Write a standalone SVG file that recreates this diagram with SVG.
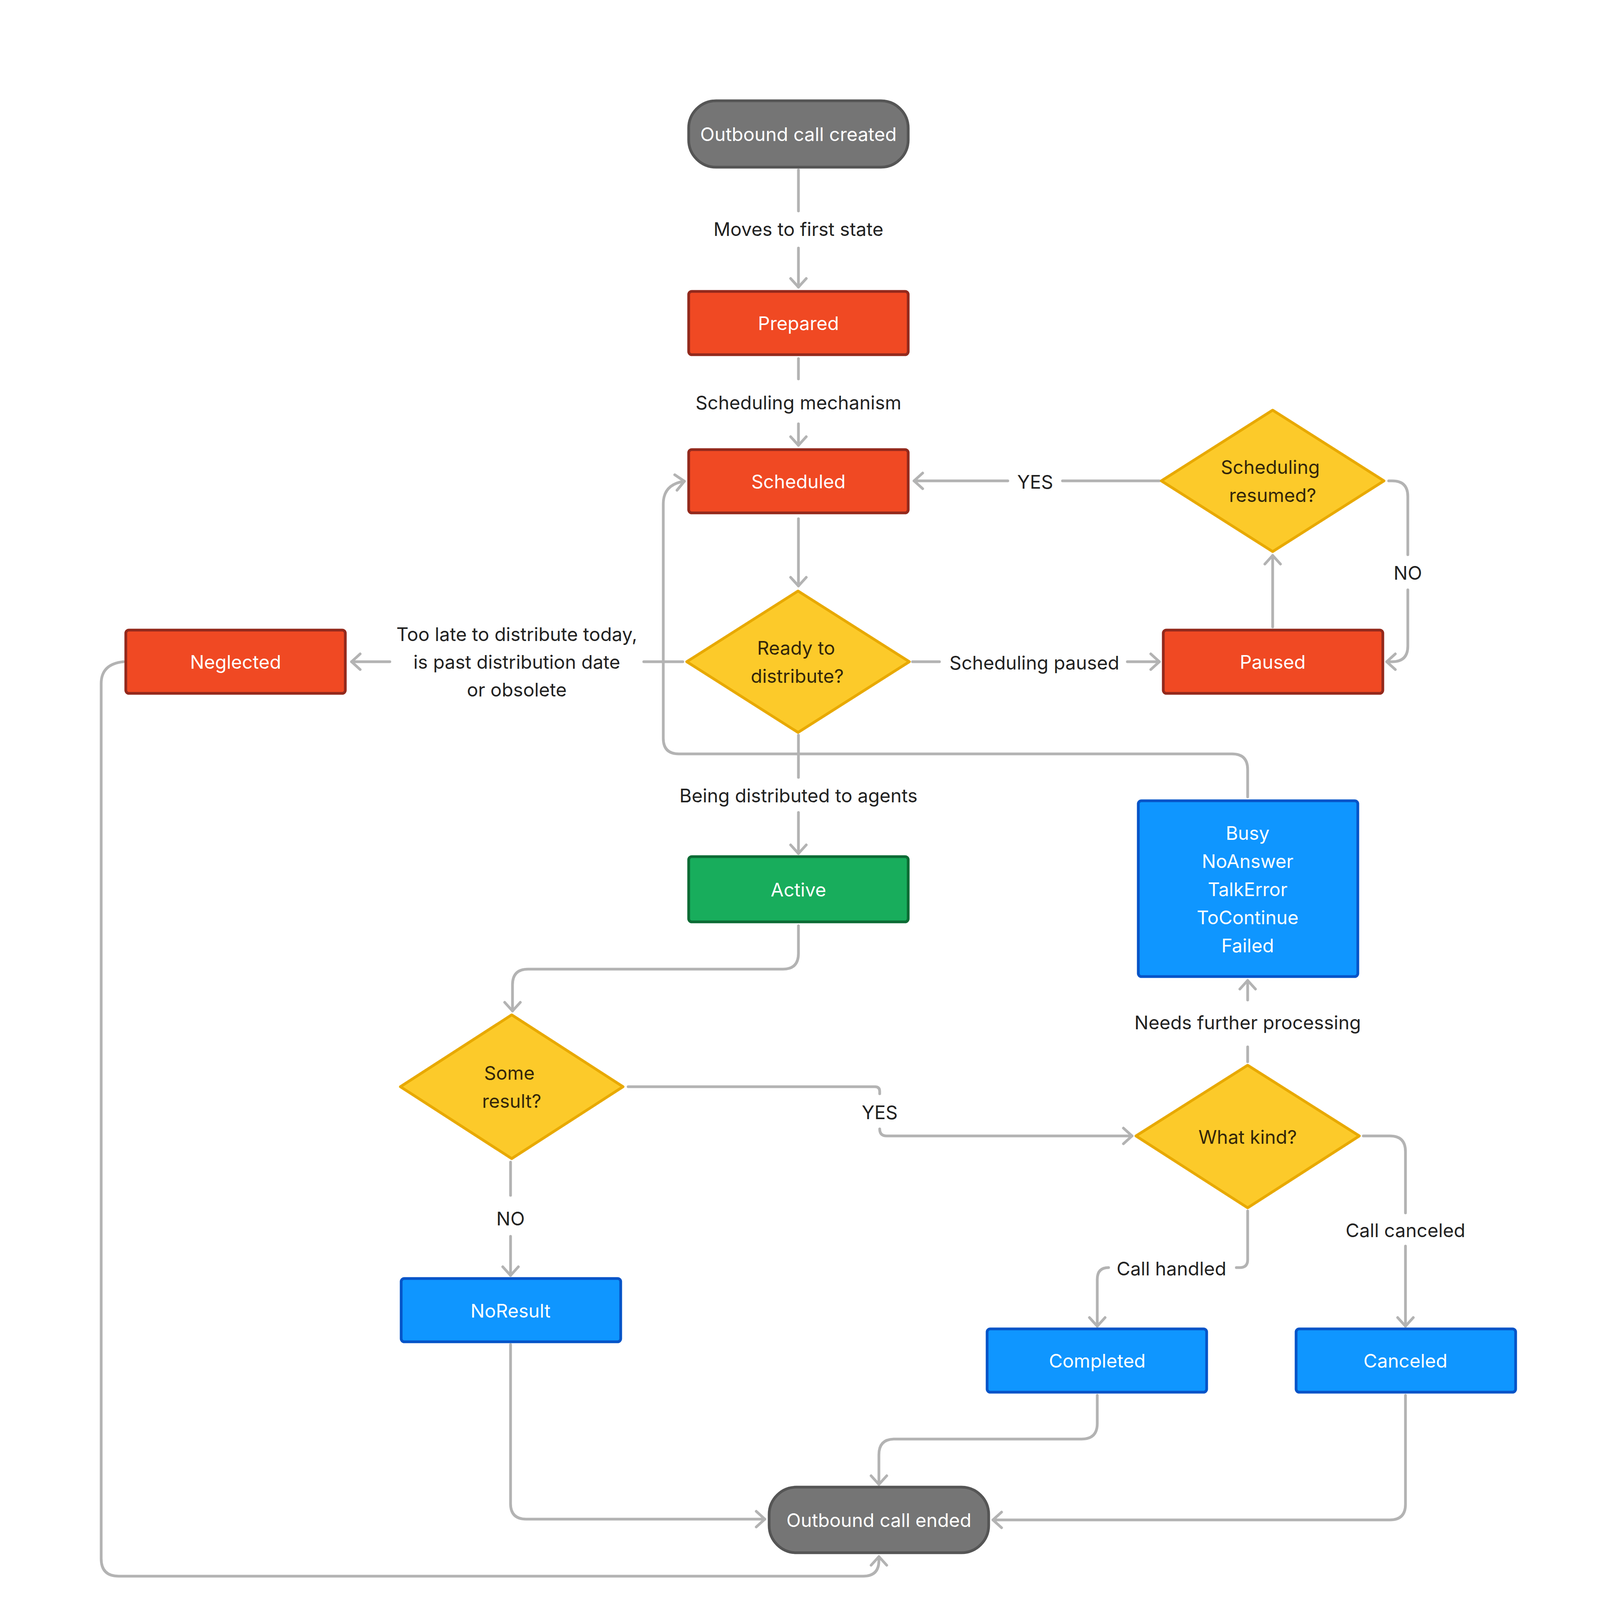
<svg xmlns="http://www.w3.org/2000/svg" width="4140" height="4298" viewBox="0 0 4140 4298">
<style>
text{font-family:Inter,"Noto Sans","Liberation Sans",sans-serif;font-size:48px;text-anchor:middle;dominant-baseline:central}
.w{fill:#fff}.d{fill:#222}.y{fill:#33260a}
.gray{fill:#757575;stroke:#555;stroke-width:7}
.red{fill:#f04923;stroke:#93291c;stroke-width:7}
.yel{fill:#fcca2a;stroke:#e8a900;stroke-width:7;stroke-linejoin:round}
.blue{fill:#0f96ff;stroke:#0554c8;stroke-width:7}
.green{fill:#18ad5c;stroke:#0b6b34;stroke-width:7}
.c path{fill:none;stroke:#b3b3b3;stroke-width:7;stroke-linecap:round;stroke-linejoin:round}
.c .a{marker-end:url(#arr)}
</style>
<defs>
<marker id="arr" viewBox="-4 -4 32 48" refX="22" refY="20" markerWidth="32" markerHeight="48" markerUnits="userSpaceOnUse" orient="auto">
<path d="M0,0 L22,20 L0,40" fill="none" stroke="#b3b3b3" stroke-width="7" stroke-linecap="round" stroke-linejoin="round"/>
</marker>
</defs>
<rect width="4140" height="4298" fill="#fff"/>
<g class="c" id="connectors">
<path d="M2044,435 V540"/><path class="a" d="M2044,635 V735"/>
<text class="d" x="2044" y="586">Moves to first state</text>
<path d="M2044,918 V970"/><path class="a" d="M2044,1085 V1140"/>
<text class="d" x="2044" y="1030">Scheduling mechanism</text>
<path class="a" d="M2044,1328 V1500"/>
<path d="M1748,1694 H1648"/><path class="a" d="M998,1694 H900"/>
<text class="d" x="1323" y="1623">Too late to distribute today,</text>
<text class="d" x="1323" y="1694">is past distribution date</text>
<text class="d" x="1323" y="1765">or obsolete</text>
<path d="M2336,1694 H2405"/><path class="a" d="M2886,1694 H2968"/>
<text class="d" x="2648" y="1696">Scheduling paused</text>
<path class="a" d="M3258,1605 V1422"/>
<path d="M2968,1231 H2720"/><path class="a" d="M2580,1231 H2340"/>
<text class="d" x="2650" y="1233">YES</text>
<path d="M3555,1231 H3564 Q3604,1231 3604,1271 V1420"/><path class="a" d="M3604,1510 V1654 Q3604,1694 3564,1694 H3550"/>
<text class="d" x="3604" y="1466">NO</text>
<path d="M2044,1882 V1990"/><path class="a" d="M2044,2080 V2185"/>
<text class="d" x="2044" y="2036">Being distributed to agents</text>
<path class="a" d="M3194,2040 V1970 Q3194,1930 3154,1930 H1738 Q1698,1930 1698,1890 V1290 Q1698,1240 1752,1232"/>
<path class="a" d="M2044,2370 V2441 Q2044,2481 2004,2481 H1352 Q1312,2481 1312,2521 V2588"/>
<path d="M1608,2782 H2240 Q2252,2782 2252,2794 V2800"/><path class="a" d="M2252,2890 Q2252,2908 2270,2908 H2898"/>
<text class="d" x="2252" y="2847">YES</text>
<path d="M1307,2975 V3060"/><path class="a" d="M1307,3165 V3265"/>
<text class="d" x="1307" y="3119">NO</text>
<path d="M3194,2718 V2680"/><path class="a" d="M3194,2560 V2510"/>
<text class="d" x="3194" y="2617">Needs further processing</text>
<path d="M3194,3100 V3225 Q3194,3245 3174,3245 H3165"/><path class="a" d="M2838,3245 Q2809,3245 2809,3275 V3395"/>
<text class="d" x="2999" y="3247">Call handled</text>
<path d="M3490,2908 H3558 Q3598,2908 3598,2948 V3105"/><path class="a" d="M3598,3190 V3395"/>
<text class="d" x="3598" y="3149">Call canceled</text>
<path class="a" d="M2809,3572 V3644 Q2809,3684 2769,3684 H2290 Q2250,3684 2250,3724 V3800"/>
<path class="a" d="M1307,3442 V3849 Q1307,3889 1347,3889 H1958"/>
<path class="a" d="M3598,3572 V3851 Q3598,3891 3558,3891 H2542"/>
<path class="a" d="M316,1694 Q259,1700 259,1750 V3990 Q259,4035 304,4035 H2210 Q2250,4035 2250,3995 V3985"/>
</g>
<g id="created"><rect class="gray" x="1763" y="258" width="562" height="170" rx="70"/><text class="w" x="2044" y="343">Outbound call created</text></g>
<g id="prepared"><rect class="red" x="1763" y="746" width="562" height="162" rx="8"/><text class="w" x="2044" y="827">Prepared</text></g>
<g id="scheduled"><rect class="red" x="1763" y="1151" width="562" height="162" rx="8"/><text class="w" x="2044" y="1232">Scheduled</text></g>
<g id="ready"><polygon class="yel" points="2043,1513 2328,1694 2043,1875 1758,1694"/><text class="y" x="2038" y="1658">Ready to</text><text class="y" x="2041" y="1730">distribute?</text></g>
<g id="resumed"><polygon class="yel" points="3258,1050 3543,1231 3258,1412 2973,1231"/><text class="y" x="3252" y="1195">Scheduling</text><text class="y" x="3258" y="1267">resumed?</text></g>
<g id="paused"><rect class="red" x="2978" y="1613" width="562" height="162" rx="8"/><text class="w" x="3258" y="1694">Paused</text></g>
<g id="neglected"><rect class="red" x="322" y="1613" width="562" height="162" rx="8"/><text class="w" x="603" y="1694">Neglected</text></g>
<g id="retry"><rect class="blue" x="2914" y="2050" width="562" height="450" rx="8"/>
<text class="w" x="3194" y="2132">Busy</text><text class="w" x="3194" y="2204">NoAnswer</text><text class="w" x="3194" y="2276">TalkError</text><text class="w" x="3194" y="2348">ToContinue</text><text class="w" x="3194" y="2420">Failed</text></g>
<g id="active"><rect class="green" x="1763" y="2193" width="562" height="167" rx="8"/><text class="w" x="2044" y="2277">Active</text></g>
<g id="someresult"><polygon class="yel" points="1310,2598 1595,2782 1310,2966 1025,2782"/><text class="y" x="1304" y="2746">Some</text><text class="y" x="1310" y="2818">result?</text></g>
<g id="whatkind"><polygon class="yel" points="3194,2727 3480,2908 3194,3092 2908,2908"/><text class="y" x="3194" y="2910">What kind?</text></g>
<g id="noresult"><rect class="blue" x="1027" y="3273" width="562" height="162" rx="8"/><text class="w" x="1307" y="3355">NoResult</text></g>
<g id="completed"><rect class="blue" x="2527" y="3402" width="562" height="162" rx="8"/><text class="w" x="2809" y="3483">Completed</text></g>
<g id="canceled"><rect class="blue" x="3318" y="3402" width="562" height="162" rx="8"/><text class="w" x="3598" y="3483">Canceled</text></g>
<g id="ended"><rect class="gray" x="1969" y="3807" width="562" height="168" rx="70"/><text class="w" x="2250" y="3891">Outbound call ended</text></g>
</svg>
